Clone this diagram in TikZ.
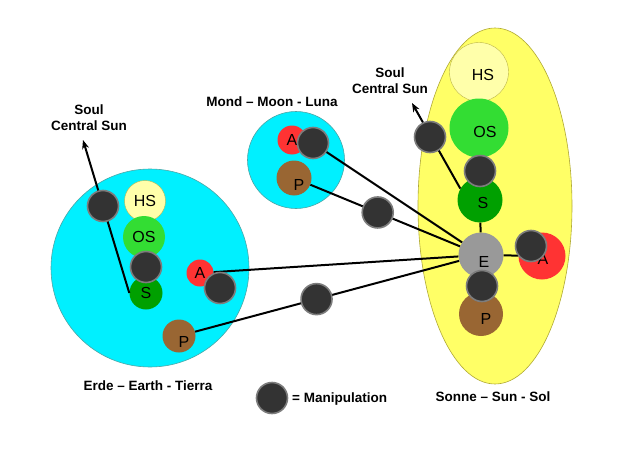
\documentclass[tikz,border=0pt]{standalone}
\usepackage{fontspec}
\setmainfont{Liberation Sans}
\usetikzlibrary{arrows.meta}

\definecolor{planetcyan}{RGB}{0,240,255}
\definecolor{suncol}{RGB}{255,255,102}
\definecolor{hscol}{RGB}{255,255,170}
\definecolor{oscol}{RGB}{51,221,51}
\definecolor{scol}{RGB}{0,160,0}
\definecolor{acol}{RGB}{255,51,51}
\definecolor{pcol}{RGB}{153,102,51}
\definecolor{ecol}{RGB}{153,153,153}
\definecolor{manipfill}{RGB}{51,51,51}
\definecolor{manipline}{RGB}{125,125,125}

\tikzset{
  body/.style={circle, draw=teal!70, line width=0.6pt, fill=planetcyan, inner sep=0pt},
  ball/.style={circle, inner sep=0pt, font=\fontsize{16}{16}\selectfont},
  ltr/.style={inner sep=0pt, font=\fontsize{16}{16}\selectfont},
  manip/.style={circle, fill=manipfill, draw=manipline, line width=1.6pt, minimum size=31pt, inner sep=0pt},
  link/.style={line width=2pt},
  soul/.style={line width=2pt, -{Stealth[length=9pt,width=7pt]}},
  lbl/.style={font=\fontsize{13.5}{16}\selectfont\bfseries, align=center, inner sep=0pt}
}

\begin{document}
\begin{tikzpicture}[x=1pt, y=-1pt]
    \useasboundingbox[fill=white] (0,0) rectangle (643,455);
    \node[body, minimum size=198pt] (earth) at (150,268) {};
    \node[body, minimum size=97pt] (moon) at (296,160) {};
    \draw[draw=olive!70, line width=0.6pt, fill=suncol] (495,206) ellipse [x radius=77, y radius=178];
    \node[inner sep=0pt] (sun) at (495,206) {};

    % earth
    \node[ball, fill=hscol, draw=olive!60, minimum size=41pt] (eHS) at (145,201) {HS};
    \node[ball, fill=oscol, minimum size=42pt] (eOS) at (144,237) {OS};
    \node[ball, fill=scol, minimum size=33pt] (eS) at (146,293) {S};
    \node[ball, fill=acol, minimum size=27pt] (eA) at (200,273) {A};
    \node[ball, fill=pcol, minimum size=33pt, label={[ltr, shift={(5pt,-6pt)}]center:P}] (eP) at (179,336) {};
    % moon
    \node[ball, fill=acol, minimum size=29pt] (mA) at (292,140) {A};
    \node[ball, fill=pcol, minimum size=35pt, label={[ltr, shift={(5pt,-7pt)}]center:P}] (mP) at (294,178) {};
    % sun
    \node[ball, fill=hscol, draw=olive!60, minimum size=59pt, label={[ltr, shift={(4pt,-3pt)}]center:HS}] (sHS) at (479,72) {};
    \node[ball, fill=oscol, minimum size=59pt, label={[ltr, shift={(6pt,-4pt)}]center:OS}] (sOS) at (479,128) {};
    \node[ball, fill=scol, minimum size=45pt, label={[ltr, shift={(3pt,-3pt)}]center:S}] (sS) at (480,200) {};
    \node[ball, fill=ecol, minimum size=45pt, label={[ltr, shift={(3pt,-7pt)}]center:E}] (sE) at (481,255) {};
    \node[ball, fill=acol, minimum size=47pt, label={[ltr, shift={(1pt,-3pt)}]center:A}] (sA) at (542,256) {};
    \node[ball, fill=pcol, minimum size=44pt, label={[ltr, shift={(5pt,-5pt)}]center:P}] (sP) at (481,314) {};

    \draw[link] (eA) -- (sE);
    \draw[link] (eP) -- node[manip, pos=0.46] (ePM) {} (sE);
    \draw[link] (mP) -- node[manip, pos=0.45] (mPM) {} (sE);
    \draw[link] (sS) -- (sE);
    \draw[link] (sE) -- (sA);
    \draw[link] (sE) -- (sP);

    \coordinate (eSoul) at (83,140);
    \coordinate (sSoul) at (412,103);
    \draw[soul] (eS.west) -- (eSoul);
    \draw[soul] (sS.150) -- (sSoul);

    \node[manip] (eSoulM) at (103,206) {};
    \node[manip] (eOSM) at (146,267) {};
    \node[manip] (eAM) at (220,288) {};
    \node[manip] (mAM) at (313,143) {};
    \node[manip] (sSoulM) at (430,137) {};
    \node[manip] (sOSM) at (480,171) {};
    \node[manip] (sAM) at (531,246) {};
    \node[manip] (sPM) at (482,286) {};
    \draw[link] (mAM) -- (sE);

    \node[lbl] (eSoulL) at (89,118) {Soul\\Central Sun};
    \node[lbl] (sSoulL) at (390,81) {Soul\\Central Sun};
    \node[lbl] (moonL) at (272,102) {Mond -- Moon - Luna};
    \node[lbl] (earthL) at (148,386) {Erde -- Earth - Tierra};
    \node[lbl] (sunL) at (493,397) {Sonne -- Sun - Sol};
    \node[manip] (legendM) at (272,398) {};
    \node[lbl, anchor=west] (legendL) at (292,399) {= Manipulation};
\end{tikzpicture}
\end{document}
